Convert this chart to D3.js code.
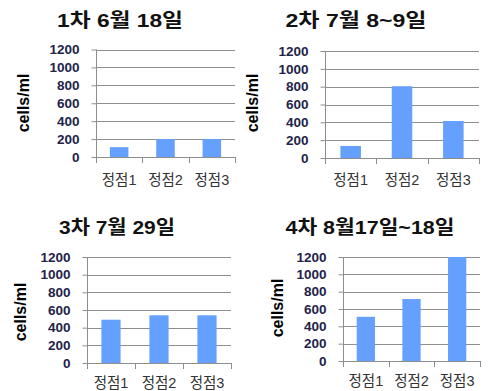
<!DOCTYPE html>
<html><head><meta charset="utf-8">
<script src="https://cdn.jsdelivr.net/npm/d3@7/dist/d3.min.js"></script>
<style>
body{margin:0;background:#fff;}
svg{display:block;}
text{font-family:"Liberation Sans","Noto Sans CJK KR",Arial,sans-serif;}
</style></head>
<body><svg id="c" width="488" height="391"></svg>
<script>
const categories = ["정점1","정점2","정점3"];
const titles = ["1차 6월 18일","2차 7월 8~9일","3차 7월 29일","4차 8월17일~18일"];
const values1 = [110, 200, 200];
const values2 = [135, 805, 415];
const values3 = [490, 540, 540];
const values4 = [510, 715, 1200];
const yTicks = [0, 200, 400, 600, 800, 1000, 1200];
const yLabel = "cells/ml";

const svg = d3.select("#c");
const panels = [
  {vals: values1, title: titles[0], x0: 96, x1: 235, yT: 49.5, y0: 157, tx: 120, ty: 27, tw: 126, lx: 23, ly: 103, cy: 185},
  {vals: values2, title: titles[1], x0: 325, x1: 479, yT: 51, y0: 158, tx: 356, ty: 27, tw: 141, lx: 252, ly: 103, cy: 185},
  {vals: values3, title: titles[2], x0: 87, x1: 231, yT: 257, y0: 363, tx: 117, ty: 234, tw: 116, lx: 20, ly: 312, cy: 388},
  {vals: values4, title: titles[3], x0: 343, x1: 480, yT: 257, y0: 361, tx: 370, ty: 234, tw: 169, lx: 277, ly: 308, cy: 386}
];

panels.forEach(p => {
  const g = svg.append("g");
  const x = d3.scaleBand().domain(categories).range([p.x0, p.x1]).paddingInner(0.6).paddingOuter(0.3);
  const y = d3.scaleLinear().domain([0, 1200]).range([p.y0, p.yT]);

  g.selectAll("line.grid").data(yTicks).join("line")
    .attr("x1", p.x0).attr("x2", p.x1)
    .attr("y1", d => Math.round(y(d)) + 0.5).attr("y2", d => Math.round(y(d)) + 0.5)
    .attr("stroke", "#8e8e8e").attr("stroke-width", 1);

  const ya = d3.axisLeft(y).tickValues(yTicks).tickFormat(d3.format("d")).tickSize(5).tickPadding(12);
  const yg = g.append("g").attr("transform", `translate(${Math.round(p.x0) + 0.5},0)`).call(ya);
  yg.select(".domain").attr("stroke", "#8e8e8e").attr("d", `M0,${y(1200)}V${y(0)}`);
  yg.selectAll(".tick line").attr("stroke", "#8e8e8e");
  yg.selectAll(".tick text").attr("font-size", 13.5).attr("font-weight", "bold").attr("fill", "#23234a")
    .attr("font-family", "Liberation Sans, Arial, sans-serif");

  g.selectAll("rect").data(p.vals).join("rect")
    .attr("x", (d, i) => x(categories[i]))
    .attr("width", x.bandwidth())
    .attr("y", d => y(d))
    .attr("height", d => y(0) - y(d))
    .attr("fill", "#66a0ff");

  const bounds = [0, 1, 2, 3].map(i => p.x0 + i * (p.x1 - p.x0) / 3);
  g.selectAll("line.xt").data(bounds).join("line")
    .attr("x1", d => Math.round(d) + 0.5).attr("x2", d => Math.round(d) + 0.5)
    .attr("y1", Math.round(p.y0)).attr("y2", Math.round(p.y0) + 6)
    .attr("stroke", "#8e8e8e");

  g.selectAll("text.cat").data(categories).join("text")
    .attr("x", d => x(d) + x.bandwidth() / 2).attr("y", p.cy)
    .attr("text-anchor", "middle").attr("font-size", 14.5).attr("fill", "#333")
    .text(d => d);

  g.append("text").attr("x", p.tx).attr("y", p.ty).attr("text-anchor", "middle")
    .attr("font-size", 19).attr("font-weight", "bold").attr("fill", "#111")
    .attr("textLength", p.tw).attr("lengthAdjust", "spacingAndGlyphs").text(p.title);

  g.append("text").attr("transform", `translate(${p.lx},${p.ly}) rotate(-90)`)
    .attr("text-anchor", "middle").attr("dy", "0.35em")
    .attr("font-size", 16).attr("font-weight", "bold").attr("fill", "#000").text(yLabel);
});
</script></body></html>
